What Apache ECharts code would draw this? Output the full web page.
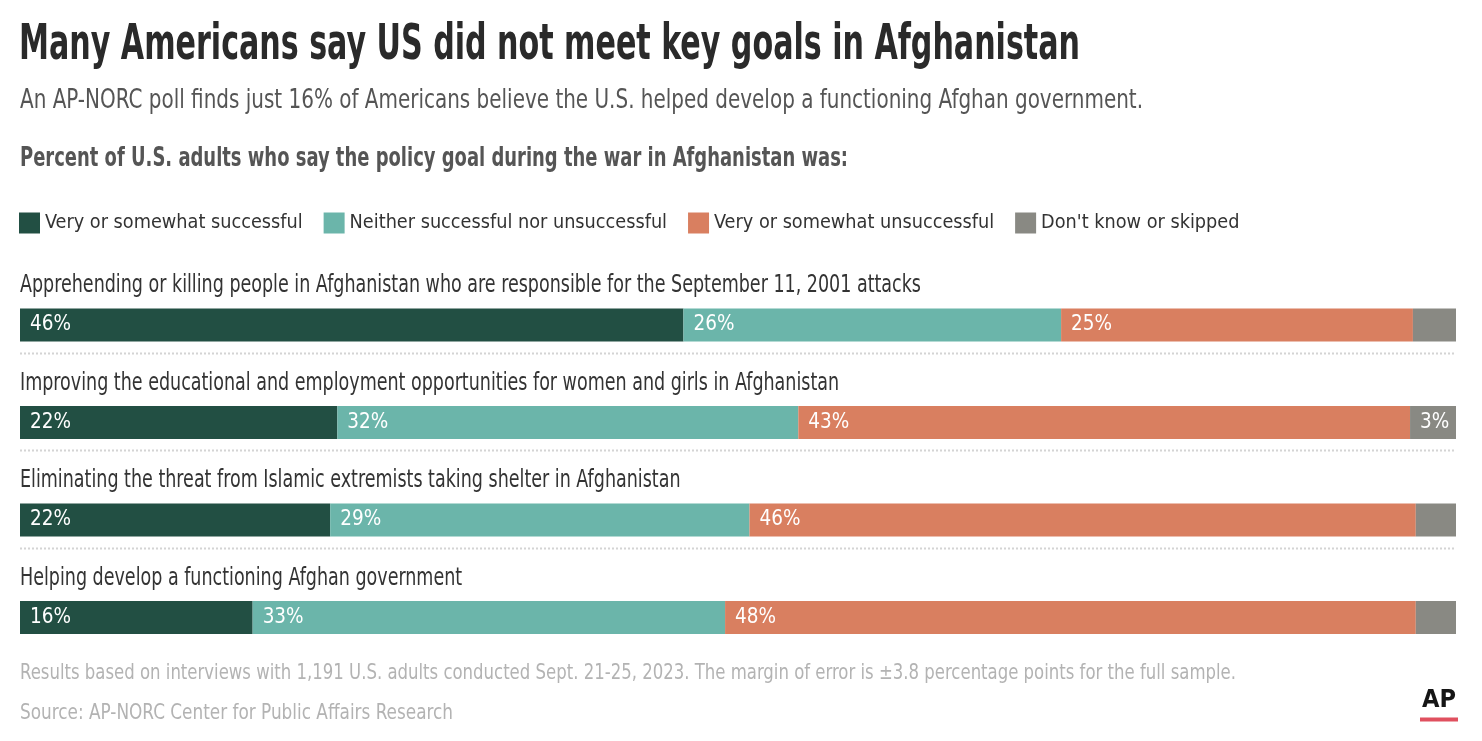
<!DOCTYPE html>
<html>
<head>
<meta charset="utf-8">
<script src="https://cdn.jsdelivr.net/npm/echarts@6/dist/echarts.min.js"></script>
<style>
html,body{margin:0;padding:0;background:#fff;}
#chart{width:1482px;height:741px;}
</style>
</head>
<body>
<div id="chart"></div>
<script>
const titleText = 'Many Americans say US did not meet key goals in Afghanistan';
const subtitleText = 'An AP-NORC poll finds just 16% of Americans believe the U.S. helped develop a functioning Afghan government.';
const headingText = 'Percent of U.S. adults who say the policy goal during the war in Afghanistan was:';
const noteText = 'Results based on interviews with 1,191 U.S. adults conducted Sept. 21-25, 2023. The margin of error is \u00b13.8 percentage points for the full sample.';
const sourceText = 'Source: AP-NORC Center for Public Affairs Research';

const categories = [
  'Apprehending or killing people in Afghanistan who are responsible for the September 11, 2001 attacks',
  'Improving the educational and employment opportunities for women and girls in Afghanistan',
  'Eliminating the threat from Islamic extremists taking shelter in Afghanistan',
  'Helping develop a functioning Afghan government'
];
const seriesNames = ['Very or somewhat successful', 'Neither successful nor unsuccessful', 'Very or somewhat unsuccessful', "Don't know or skipped"];
const successful   = [46.2, 22.1, 21.6, 16.2];
const neither      = [26.3, 32.1, 29.2, 32.9];
const unsuccessful = [24.5, 42.6, 46.4, 48.1];
const dontKnow     = [3.0, 3.2, 2.8, 2.8];

const colors = ['#224f43', '#6bb5aa', '#d97f60', '#898983'];
const FAMILY = "'DejaVu Sans Condensed', 'Liberation Sans Narrow', sans-serif";

// horizontal condensing factor so the text spans the width it has in the reference
const measureCtx = document.createElement('canvas').getContext('2d');
function squeeze(text, weight, size, targetWidth) {
  measureCtx.font = weight + ' ' + size + 'px ' + FAMILY;
  return targetWidth / measureCtx.measureText(text).width;
}

function squeezedText(text, x, y, weight, size, color, targetWidth) {
  return {
    type: 'text', x: x, y: y, silent: true,
    scaleX: squeeze(text, weight, size, targetWidth),
    style: {text: text, fontFamily: FAMILY, fontWeight: weight, fontSize: size,
            fill: color, align: 'left', verticalAlign: 'middle'}
  };
}

const ROW_FONT = 24.5;
const rowScale = squeeze(categories[0], 'normal', ROW_FONT, 901);

const chart = echarts.init(document.getElementById('chart'), null, {renderer: 'canvas'});

function barSeries(name, data, color) {
  return {
    name: name,
    type: 'bar',
    stack: 'total',
    data: data,
    barWidth: 33,
    itemStyle: {color: color},
    emphasis: {disabled: true},
    label: {
      show: true,
      position: 'insideLeft',
      distance: 10,
      color: '#fff',
      fontFamily: FAMILY,
      fontSize: 20.5,
      formatter: p => (p.value >= 3.1 ? Math.round(p.value) + '%' : '')
    }
  };
}

const option = {
  animation: false,
  backgroundColor: '#fff',
  graphic: [
    squeezedText(titleText, 19, 46.5, 'bold', 49, '#2a2a2a', 1061),
    squeezedText(subtitleText, 20, 101, 'normal', 27, '#555555', 1123),
    squeezedText(headingText, 20, 158.8, 'bold', 27, '#555555', 828),
    squeezedText(noteText, 20, 672.8, 'normal', 22, '#b3b3b3', 1216),
    squeezedText(sourceText, 20, 712.8, 'normal', 22, '#b3b3b3', 433),
    squeezedText('AP', 1422, 700, 'bold', 25, '#151515', 34),
    {type: 'rect', x: 1420, y: 717.5, silent: true, shape: {width: 38, height: 4}, style: {fill: '#e0505f'}}
  ],
  legend: {
    data: seriesNames,
    left: 19,
    top: 212.5,
    padding: 0,
    icon: 'rect',
    itemWidth: 21,
    itemHeight: 21,
    itemGap: 21,
    selectedMode: false,
    textStyle: {fontFamily: FAMILY, fontSize: 19.7, color: '#333'}
  },
  grid: {left: 20, right: 26, top: 276.25, height: 390, containLabel: false},
  xAxis: {type: 'value', min: 0, max: 100, show: false},
  yAxis: {
    type: 'category',
    data: categories,
    inverse: true,
    axisLine: {show: false},
    axisTick: {show: false},
    splitLine: {show: false},
    axisLabel: {show: false}
  },
  series: [
    barSeries(seriesNames[0], successful, colors[0]),
    barSeries(seriesNames[1], neither, colors[1]),
    barSeries(seriesNames[2], unsuccessful, colors[2]),
    barSeries(seriesNames[3], dontKnow, colors[3]),
    {
      // category titles above each bar and dotted separators below all but the last
      type: 'custom',
      name: 'rowLabels',
      silent: true,
      data: categories.map((c, i) => [0, i]),
      encode: {x: 0, y: 1},
      renderItem: function (params, api) {
        const idx = api.value(1);
        const c = api.coord([0, idx]);
        const band = api.size([0, 1])[1];
        const cs = params.coordSys;
        const children = [{
          type: 'text',
          x: cs.x,
          y: c[1] - band * 0.402,
          scaleX: rowScale,
          style: {text: categories[idx], fontFamily: FAMILY, fontSize: ROW_FONT,
                  fill: '#333333', align: 'left', verticalAlign: 'middle'}
        }];
        if (idx < categories.length - 1) {
          const y = Math.round(c[1] + band * 0.285) + 0.5;
          children.push({
            type: 'line',
            shape: {x1: cs.x, y1: y, x2: cs.x + cs.width, y2: y},
            style: {stroke: '#d4d4d4', lineWidth: 2, lineDash: [2, 2]}
          });
        }
        return {type: 'group', children: children};
      }
    }
  ]
};
chart.setOption(option);
</script>
</body>
</html>
